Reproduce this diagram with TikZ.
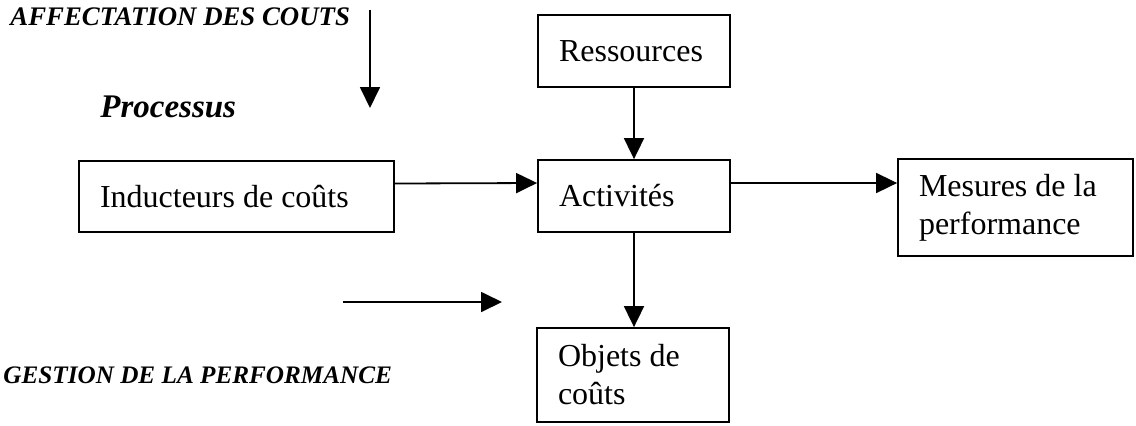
\documentclass[tikz,border=0pt]{standalone}
\usepackage{fontspec}
\setmainfont{Liberation Serif}
\usetikzlibrary{arrows.meta,positioning}

\begin{document}
\begin{tikzpicture}[x=0.5pt,y=-0.5pt,
box/.style={draw,line width=0.9pt,inner xsep=10.5pt,inner ysep=0pt,align=flush left,
  font=\fontsize{16}{19}\selectfont},
lbl/.style={inner sep=0pt,anchor=west,font=\fontsize{13}{15}\selectfont\bfseries\itshape},
fl/.style={-{Triangle[length=10.5pt,width=10pt]},line width=0.9pt}]
\useasboundingbox (0,0) rectangle (1136,425);
\node[box,text width=75pt,minimum height=36pt] (ressources) at (634,51) {Ressources};
\node[box,text width=75pt,minimum height=36pt] (activites) at (634,196) {Activités};
\node[box,text width=136.5pt,minimum height=35.5pt] (inducteurs) at (236.5,196.5) {Inducteurs de coûts};
\node[box,text width=96.5pt,minimum height=48.5pt] (mesures) at (1015.5,207.5) {Mesures de la\\performance};
\node[box,text width=75pt,minimum height=47pt] (objets) at (633,375) {Objets de\\coûts};
\node[lbl,font=\fontsize{13.4}{15}\selectfont\bfseries\itshape] (affect) at (10,17) {AFFECTATION DES COUTS};
\node[lbl,font=\fontsize{16.5}{18}\selectfont\bfseries\itshape] (processus) at (100,107) {Processus};
\node[lbl,font=\fontsize{12.6}{15}\selectfont\bfseries\itshape] (gestion) at (3,375) {GESTION DE LA PERFORMANCE};
\coordinate (a1) at (370,10);
\coordinate (a2) at (370,108);
\coordinate (g1) at (343,302);
\coordinate (g2) at (502,302);
\draw[fl] (ressources) -- (activites);
\draw[fl] (activites.south) -- (activites.south |- objets.north);
\draw[fl] ([yshift=6.5pt]inducteurs.east) -- ([yshift=6.5pt]activites.west);
\draw[fl] ([yshift=6.5pt]activites.east) -- ([yshift=6.5pt]activites.east -| mesures.west);
\draw[fl] (a1) -- (a2);
\draw[fl] (g1) -- (g2);
\end{tikzpicture}
\end{document}
